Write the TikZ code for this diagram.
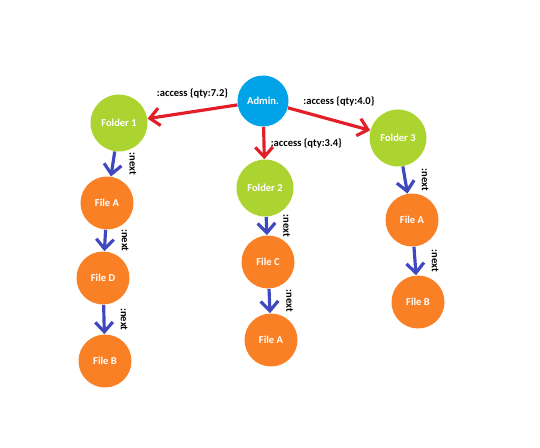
\documentclass[tikz,border=0pt]{standalone}
\usepackage{fontspec}
\setmainfont{Carlito}
\usetikzlibrary{arrows.meta}

\definecolor{adminblue}{RGB}{0,162,232}
\definecolor{foldergreen}{RGB}{172,212,48}
\definecolor{fileorange}{RGB}{250,128,38}
\definecolor{accessred}{RGB}{226,30,40}
\definecolor{nextblue}{RGB}{63,72,190}

\begin{document}
\begin{tikzpicture}[x=0.02cm, y=-0.02cm,
		item/.style={circle, minimum size=1.06cm, inner sep=0pt, text=white, font=\fontsize{6}{7}\selectfont\bfseries},
		admin/.style={item, fill=adminblue, minimum size=1.02cm},
		folder/.style={item, fill=foldergreen, minimum size=1.14cm},
		file/.style={item, fill=fileorange},
		access/.style={draw=accessred, line width=1.8pt, -{Straight Barb[length=5.5pt, width=10pt]}},
		nextarrow/.style={draw=nextblue, line width=1.8pt, -{Straight Barb[length=5.5pt, width=10pt]}},
		lbl/.style={font=\fontsize{6}{7}\selectfont\bfseries, inner sep=1pt},
		nextlbl/.style={lbl, anchor=south, rotate=-90, outer sep=8.5pt},
	]
		\useasboundingbox (0,0) rectangle (540,448);

		\node[admin] (admin) at (263,101) {Admin.};

		\node[folder] (folder1) at (119,123) {Folder 1};
		\node[folder] (folder2) at (265,188) {Folder 2};
		\node[folder] (folder3) at (398,138) {Folder 3};

		\node[file] (fileA1) at (107,203) {File A};
		\node[file] (fileD) at (103,278) {File D};
		\node[file] (fileB1) at (105,361) {File B};

		\node[file] (fileC) at (268,262) {File C};
		\node[file] (fileA2) at (271,340) {File A};

		\node[file] (fileA3) at (412,220) {File A};
		\node[file] (fileB3) at (418,302) {File B};

		\draw[access] (admin) -- (folder1) node[lbl, pos=0.5, above=6pt] {:access \{qty:7.2\}};
		\draw[access] (admin) -- (folder2) node[lbl, midway, right=2pt] {:access \{qty:3.4\}};
		\draw[access] (admin) -- (folder3) node[lbl, pos=0.62, above=7pt] {:access \{qty:4.0\}};

		\draw[nextarrow] (folder1) -- (fileA1) node[nextlbl, midway] {:next};
		\draw[nextarrow] (fileA1) -- (fileD) node[nextlbl, midway] {:next};
		\draw[nextarrow] (fileD) -- (fileB1) node[nextlbl, midway] {:next};

		\draw[nextarrow] (folder2) -- (fileC) node[nextlbl, midway] {:next};
		\draw[nextarrow] (fileC) -- (fileA2) node[nextlbl, midway] {:next};

		\draw[nextarrow] (folder3) -- (fileA3) node[nextlbl, midway] {:next};
		\draw[nextarrow] (fileA3) -- (fileB3) node[nextlbl, midway] {:next};
	\end{tikzpicture}
\end{document}
